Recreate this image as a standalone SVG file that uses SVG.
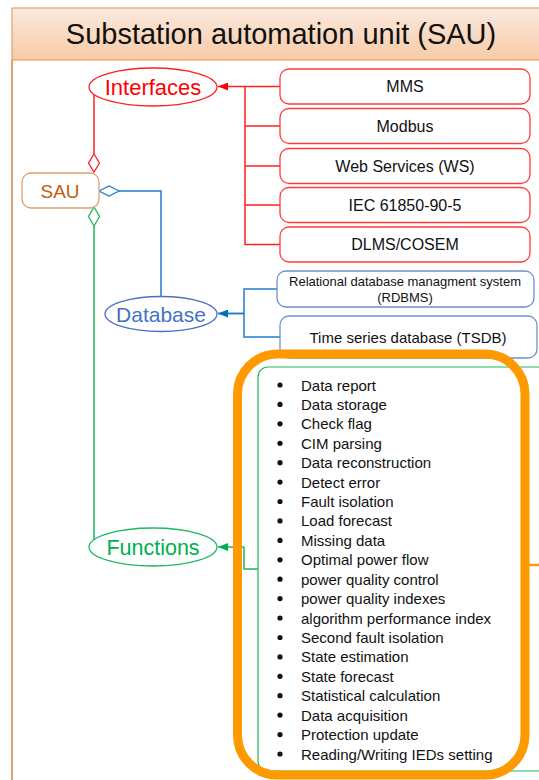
<svg xmlns="http://www.w3.org/2000/svg" width="539" height="780" viewBox="0 0 539 780">
<defs>
<linearGradient id="tg" x1="0" y1="0" x2="0" y2="1">
<stop offset="0" stop-color="#fbeadf"/>
<stop offset="1" stop-color="#f7caa6"/>
</linearGradient>
<marker id="ar" markerWidth="10" markerHeight="8" refX="10" refY="4" orient="auto" markerUnits="userSpaceOnUse"><path d="M0,0 L10,4 L0,8 Z" fill="#ff0000"/></marker>
<marker id="ab" markerWidth="10" markerHeight="8" refX="10" refY="4" orient="auto" markerUnits="userSpaceOnUse"><path d="M0,0 L10,4 L0,8 Z" fill="#0070c0"/></marker>
<marker id="ag" markerWidth="10" markerHeight="8" refX="10" refY="4" orient="auto" markerUnits="userSpaceOnUse"><path d="M0,0 L10,4 L0,8 Z" fill="#00b050"/></marker>
</defs>
<style>
text{font-family:"Liberation Sans",Arial,sans-serif}
.box{fill:#fff;stroke-width:1.3}
.rb{stroke:#ff3b3b}
.bb{stroke:#6f8fd0}
.bt{font-size:16px;fill:#111;text-anchor:middle}
.li{font-size:15px;fill:#111}
.red{stroke:#ff2020;fill:none;stroke-width:1.5}
.blu{stroke:#1f7fcf;fill:none;stroke-width:1.5}
.grn{stroke:#1db860;fill:none;stroke-width:1.5}
</style>
<rect width="539" height="780" fill="#fff"/>
<g id="title">
<rect x="12" y="8" width="540" height="52" fill="url(#tg)" stroke="#d8955c" stroke-width="1"/>
<line x1="12" y1="60" x2="12" y2="780" stroke="#c9772f" stroke-width="1.3"/>
<text x="281" y="44" font-size="29" text-anchor="middle" fill="#111">Substation automation unit (SAU)</text>
</g>
<g id="connectors">
<path class="red" d="M94,154 L94,94.5"/>
<path class="red" d="M280,86.5 H245 M280,126 H245 M280,166 H245 M280,205 H245 M280,244.5 H245 V86.5"/>
<path class="red" d="M245,86.5 H218" marker-end="url(#ar)"/>
<path d="M94,154 L99.5,163 L94,172 L88.5,163 Z" fill="#fff" stroke="#ff2020" stroke-width="1.3"/>
<path class="blu" d="M119,191 H161 V297"/>
<path d="M99,191 L109,186 L119,191 L109,196 Z" fill="#fff" stroke="#1f7fcf" stroke-width="1.3"/>
<path class="blu" d="M277,289 H244 V337 H280 M244,313.5 H218" />
<path class="blu" d="M244,313.5 H218" marker-end="url(#ab)"/>
<path class="grn" d="M94,226 V540"/>
<path d="M94,207 L99.5,216.5 L94,226 L88.5,216.5 Z" fill="#fff" stroke="#1db860" stroke-width="1.3"/>
<path class="grn" d="M258,569 H244 V547"/>
<path class="grn" d="M244,547 H218" marker-end="url(#ag)"/>
</g>
<g id="sau">
<rect x="22" y="173" width="77" height="35" rx="9" fill="#fff" stroke="#e0a070" stroke-width="1.3"/>
<text x="60" y="197.5" font-size="19" text-anchor="middle" fill="#c55a11">SAU</text>
</g>
<g id="interfaces">
<ellipse cx="153" cy="87" rx="64" ry="19" fill="#fff" stroke="#ff2020" stroke-width="1.3"/>
<text x="153" y="95" font-size="22" text-anchor="middle" fill="#ff0000">Interfaces</text>
</g>
<g id="mms"><rect class="box rb" x="280" y="69" width="250" height="35" rx="9"/><text class="bt" x="405" y="92">MMS</text></g>
<g id="modbus"><rect class="box rb" x="280" y="108.5" width="250" height="35" rx="9"/><text class="bt" x="405" y="131.5">Modbus</text></g>
<g id="ws"><rect class="box rb" x="280" y="148.5" width="250" height="35" rx="9"/><text class="bt" x="405" y="171.5">Web Services (WS)</text></g>
<g id="iec"><rect class="box rb" x="280" y="187.5" width="250" height="35" rx="9"/><text class="bt" x="405" y="210.5">IEC 61850-90-5</text></g>
<g id="dlms"><rect class="box rb" x="280" y="227" width="250" height="35" rx="9"/><text class="bt" x="405" y="250">DLMS/COSEM</text></g>
<g id="database">
<ellipse cx="161" cy="314" rx="56" ry="17.5" fill="#fff" stroke="#4a6fc4" stroke-width="1.3"/>
<text x="161" y="321.5" font-size="21" text-anchor="middle" fill="#4472c4">Database</text>
</g>
<g id="rdbms"><rect class="box bb" x="277" y="271" width="257" height="36" rx="9"/>
<text x="405" y="286" font-size="13" text-anchor="middle" fill="#111">Relational database managment system</text>
<text x="405" y="302" font-size="13" text-anchor="middle" fill="#111">(RDBMS)</text></g>
<g id="tsdb"><rect class="box bb" x="280" y="316" width="257" height="42" rx="9"/>
<text x="408" y="343" font-size="15" text-anchor="middle" fill="#111">Time series database (TSDB)</text></g>
<g id="functions">
<ellipse cx="153" cy="547" rx="64" ry="19" fill="#fff" stroke="#1db860" stroke-width="1.3"/>
<text x="153" y="555" font-size="21.5" text-anchor="middle" fill="#00b050">Functions</text>
</g>
<g id="functionlist">
<rect x="258" y="367" width="290" height="404" rx="10" fill="#fff" stroke="#1db860" stroke-width="1.2"/>
<g fill="#111">
<circle cx="280" cy="385" r="2.6"/><circle cx="280" cy="404.4" r="2.6"/><circle cx="280" cy="423.8" r="2.6"/><circle cx="280" cy="443.3" r="2.6"/><circle cx="280" cy="462.7" r="2.6"/>
<circle cx="280" cy="482.1" r="2.6"/><circle cx="280" cy="501.5" r="2.6"/><circle cx="280" cy="520.9" r="2.6"/><circle cx="280" cy="540.4" r="2.6"/><circle cx="280" cy="559.8" r="2.6"/>
<circle cx="280" cy="579.2" r="2.6"/><circle cx="280" cy="598.6" r="2.6"/><circle cx="280" cy="618" r="2.6"/><circle cx="280" cy="637.5" r="2.6"/><circle cx="280" cy="656.9" r="2.6"/>
<circle cx="280" cy="676.3" r="2.6"/><circle cx="280" cy="695.7" r="2.6"/><circle cx="280" cy="715.1" r="2.6"/><circle cx="280" cy="734.6" r="2.6"/><circle cx="280" cy="754" r="2.6"/>
</g>
<text class="li" x="301" y="390.5">Data report</text>
<text class="li" x="301" y="409.9">Data storage</text>
<text class="li" x="301" y="429.3">Check flag</text>
<text class="li" x="301" y="448.8">CIM parsing</text>
<text class="li" x="301" y="468.2">Data reconstruction</text>
<text class="li" x="301" y="487.6">Detect error</text>
<text class="li" x="301" y="507">Fault isolation</text>
<text class="li" x="301" y="526.4">Load forecast</text>
<text class="li" x="301" y="545.9">Missing data</text>
<text class="li" x="301" y="565.3">Optimal power flow</text>
<text class="li" x="301" y="584.7">power quality control</text>
<text class="li" x="301" y="604.1">power quality indexes</text>
<text class="li" x="301" y="623.5">algorithm performance index</text>
<text class="li" x="301" y="643">Second fault isolation</text>
<text class="li" x="301" y="662.4">State estimation</text>
<text class="li" x="301" y="681.8">State forecast</text>
<text class="li" x="301" y="701.2">Statistical calculation</text>
<text class="li" x="301" y="720.6">Data acquisition</text>
<text class="li" x="301" y="740.1">Protection update</text>
<text class="li" x="301" y="759.5">Reading/Writing IEDs setting</text>
</g>
<g id="highlight">
<rect x="237.5" y="354" width="287.5" height="421" rx="40" fill="none" stroke="#ff9900" stroke-width="9"/>
<line x1="529" y1="565" x2="539" y2="565" stroke="#ff9900" stroke-width="2.5"/>
</g>
</svg>
